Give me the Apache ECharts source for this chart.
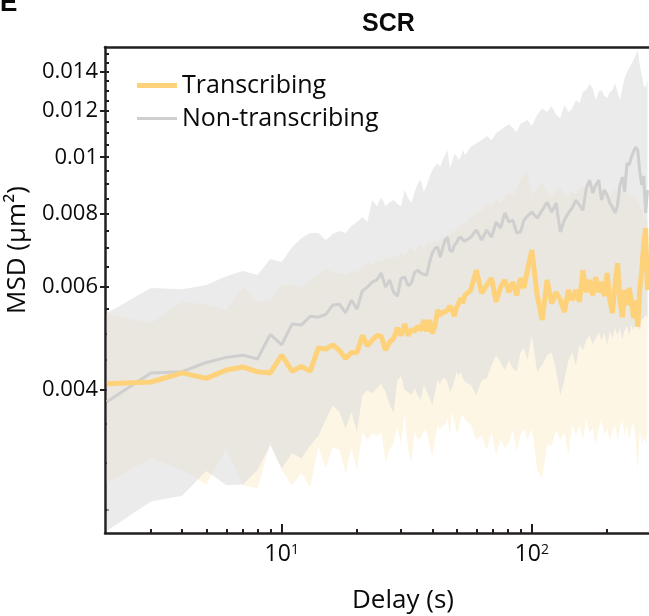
<!DOCTYPE html>
<html><head><meta charset="utf-8">
<script src="https://cdn.jsdelivr.net/npm/echarts@6/dist/echarts.min.js"></script>
<style>html,body{margin:0;padding:0;background:#fff}#c{width:649px;height:616px}</style>
</head><body><div id="c"></div>
<script>
// ---- data (delay in s, MSD in µm²) ----
const delays = [2,3,4,5,6,7,8,9,10,11,12,13,14,15,16,17,18,19,20,21,22,23,24,25,26,27,28,29,30,31,32,33,34,35,36,37,38,39,40,41,42,43,44,45,46,47,48,49,50,51,52,53,54,
57,60,63,66,69,72,75,78,81,84,87,90,93,96,
100,105,110,115,120,125,130,135,140,145,150,155,160,165,170,175,180,185,190,195,200,205,210,215,220,225,230,235,240,245,250,255,260,265,270,275,280,285,290];

const transMean = [0.00410,0.00413,0.00428,0.00419,0.00433,0.00438,0.00430,0.00428,0.00459,
0.00431,0.00439,0.00431,0.00472,0.00470,0.00478,0.00468,0.00453,0.00464,0.00464,
0.00496,0.00476,0.00487,0.00496,0.00494,0.00468,0.00483,0.00490,0.00511,0.00496,
0.00519,0.00496,0.00508,0.00504,0.00515,0.00506,0.00527,0.00504,0.00527,0.00500,
0.00515,0.00548,0.00537,0.00544,0.00544,0.00548,0.00557,0.00548,0.00535,0.00554,
0.00563,0.00574,0.00563,0.00581,
0.00593,0.00641,0.00586,0.00605,0.00621,0.00566,0.00600,0.00617,0.00588,0.00612,0.00581,0.00621,0.00598,0.00641,
0.00694,0.00581,0.00527,0.00617,0.00563,0.00588,0.00570,0.00544,0.00593,0.00570,0.00593,0.00566,0.00641,0.00588,0.00617,0.00581,0.00624,0.00588,0.00612,0.00579,0.00634,0.00570,0.00542,0.00605,0.00659,0.00570,0.00533,0.00593,0.00559,0.00598,0.00570,0.00531,0.00570,0.00513,0.00593,0.00641,0.00708,0.00757,0.00593];

const transLow = [0.00278,0.00306,0.00292,0.00276,0.00318,0.00275,0.00272,0.00325,0.00292,
0.00275,0.00289,0.00273,0.00320,0.00294,0.00320,0.00316,0.00289,0.00318,0.00292,
0.00339,0.00329,0.00338,0.00334,0.00339,0.00301,0.00316,0.00326,0.00346,0.00322,
0.00366,0.00316,0.00301,0.00339,0.00329,0.00332,0.00342,0.00339,0.00322,0.00307,
0.00329,0.00349,0.00342,0.00349,0.00349,0.00358,0.00335,0.00367,0.00353,0.00339,
0.00342,0.00358,0.00363,0.00356,
0.00349,0.00329,0.00335,0.00316,0.00339,0.00310,0.00329,0.00318,0.00326,0.00342,0.00314,0.00335,0.00344,0.00329,
0.00344,0.00292,0.00283,0.00322,0.00322,0.00342,0.00329,0.00339,0.00310,0.00349,0.00335,0.00349,0.00329,0.00356,0.00339,0.00344,0.00322,0.00344,0.00356,0.00335,0.00344,0.00329,0.00339,0.00349,0.00329,0.00344,0.00356,0.00335,0.00349,0.00329,0.00344,0.00353,0.00329,0.00290,0.00342,0.00322,0.00335,0.00322,0.00342];

const transHigh = [0.00540,0.00521,0.00566,0.00561,0.00548,0.00600,0.00566,0.00570,0.00605,
0.00607,0.00598,0.00617,0.00629,0.00646,0.00636,0.00634,0.00629,0.00641,0.00636,
0.00646,0.00662,0.00654,0.00667,0.00662,0.00675,0.00667,0.00680,0.00672,0.00686,
0.00678,0.00694,0.00702,0.00689,0.00699,0.00708,0.00699,0.00716,0.00711,0.00714,
0.00722,0.00714,0.00728,0.00734,0.00728,0.00742,0.00736,0.00751,0.00745,0.00757,
0.00751,0.00763,0.00775,0.00769,
0.00787,0.00803,0.00812,0.00835,0.00828,0.00845,0.00838,0.00858,0.00869,0.00862,0.00885,0.00914,0.00932,0.00944,
0.00862,0.00885,0.00903,0.00872,0.00855,0.00879,0.00885,0.00862,0.00855,0.00879,0.00862,0.00885,0.00893,0.00879,0.00896,0.00903,0.00879,0.00900,0.00872,0.00885,0.00862,0.00855,0.00872,0.00885,0.00879,0.00893,0.00872,0.00862,0.00879,0.00855,0.00862,0.00852,0.00858,0.00845,0.00828,0.00812,0.00796,0.00787,0.00781];

const nonMean = [0.00382,0.00428,0.00430,0.00446,0.00455,0.00459,0.00452,0.00498,0.00478,
0.00519,0.00517,0.00535,0.00533,0.00539,0.00559,0.00561,0.00542,0.00570,0.00550,
0.00591,0.00600,0.00612,0.00617,0.00634,0.00600,0.00617,0.00588,0.00579,0.00621,
0.00624,0.00603,0.00610,0.00636,0.00641,0.00634,0.00631,0.00629,0.00662,0.00686,
0.00699,0.00702,0.00675,0.00699,0.00722,0.00730,0.00694,0.00689,0.00708,0.00714,
0.00728,0.00730,0.00722,0.00719,
0.00730,0.00751,0.00722,0.00751,0.00730,0.00775,0.00757,0.00803,0.00775,0.00781,0.00742,0.00745,0.00781,0.00793,
0.00806,0.00787,0.00812,0.00838,0.00806,0.00835,0.00745,0.00781,0.00803,0.00819,0.00845,0.00828,0.00812,0.00885,0.00914,0.00869,0.00896,0.00914,0.00845,0.00879,0.00862,0.00835,0.00822,0.00803,0.00828,0.00896,0.00925,0.00872,0.00977,0.00970,0.01001,0.01021,0.01041,0.01029,0.00944,0.00896,0.00929,0.00803,0.00879];

const nonLow = [0.00230,0.00258,0.00264,0.00291,0.00275,0.00276,0.00292,0.00322,0.00294,
0.00312,0.00306,0.00322,0.00334,0.00356,0.00377,0.00367,0.00344,0.00367,0.00339,
0.00392,0.00400,0.00395,0.00403,0.00410,0.00397,0.00377,0.00366,0.00416,0.00423,
0.00400,0.00397,0.00392,0.00403,0.00391,0.00385,0.00408,0.00397,0.00388,0.00377,
0.00397,0.00416,0.00410,0.00419,0.00419,0.00413,0.00397,0.00403,0.00416,0.00430,
0.00423,0.00430,0.00419,0.00413,
0.00408,0.00392,0.00416,0.00419,0.00441,0.00459,0.00446,0.00433,0.00450,0.00436,0.00430,0.00464,0.00472,0.00450,
0.00496,0.00430,0.00441,0.00459,0.00464,0.00433,0.00392,0.00416,0.00450,0.00464,0.00441,0.00478,0.00468,0.00487,0.00496,0.00478,0.00490,0.00502,0.00487,0.00502,0.00478,0.00506,0.00490,0.00511,0.00496,0.00511,0.00487,0.00506,0.00515,0.00496,0.00517,0.00506,0.00523,0.00517,0.00506,0.00527,0.00531,0.00537,0.00531];

const nonHigh = [0.00542,0.00598,0.00595,0.00605,0.00626,0.00639,0.00629,0.00670,0.00662,
0.00702,0.00728,0.00742,0.00742,0.00722,0.00739,0.00748,0.00742,0.00763,0.00775,
0.00790,0.00775,0.00845,0.00825,0.00855,0.00825,0.00838,0.00845,0.00832,0.00825,
0.00879,0.00852,0.00835,0.00872,0.00903,0.00914,0.00872,0.00896,0.00925,0.00951,
0.00966,0.00977,0.00962,0.00989,0.01009,0.01029,0.00958,0.00981,0.01013,0.01005,
0.00989,0.01001,0.01029,0.01009,
0.01041,0.01057,0.01070,0.01087,0.01070,0.01100,0.01113,0.01126,0.01140,0.01122,0.01104,0.01140,0.01149,0.01158,
0.01131,0.01181,0.01213,0.01195,0.01223,0.01181,0.01166,0.01228,0.01195,0.01213,0.01252,0.01237,0.01293,0.01303,0.01334,0.01313,0.01252,0.01293,0.01303,0.01273,0.01263,0.01293,0.01303,0.01339,0.01293,0.01252,0.01313,0.01366,0.01399,0.01420,0.01443,0.01466,0.01495,0.01525,0.01437,0.01382,0.01329,0.01313,0.01355];

const seriesNames = ['Transcribing', 'Non-transcribing'];
const yLabelTicks = [0.004, 0.006, 0.008, 0.01, 0.012, 0.014];
const yAllTicks = [0.0025,0.003,0.0035,0.004,0.0045,0.005,0.0055,0.006,0.0065,0.007,0.0075,0.008,0.0085,0.009,0.0095,0.01,0.0105,0.011,0.0115,0.012,0.0125,0.013,0.0135,0.014,0.0145,0.015];
const xLabelTicks = [10, 100];
const xMinorTicks = [3,4,5,6,7,8,9,20,30,40,50,60,70,80,90,200];

// ---- styling ----
const FONT = "'Open Sans', 'DejaVu Sans', sans-serif";
const AX = '#231f20';
const TXT = '#0a0a0a';
const YELLOW = '#fdd27b';
const GREY = '#cfcfcf';
const X_MIN = 1.965, X_MAX = 294, Y_MIN = 0.00228, Y_MAX = 0.01543;

function band(lo, hi, fill, z) {
  return {
    type: 'custom', silent: true, clip: true, z: z,
    xAxisIndex: 0, yAxisIndex: 0,
    data: delays.map((d, i) => [d, lo[i], hi[i]]),
    encode: { x: 0, y: [1, 2] },
    renderItem: function (params, api) {
      if (params.dataIndex !== 0) return null;
      const pts = [];
      for (let i = 0; i < delays.length; i++) pts.push(api.coord([delays[i], hi[i]]));
      for (let i = delays.length - 1; i >= 0; i--) pts.push(api.coord([delays[i], lo[i]]));
      return { type: 'polygon', shape: { points: pts }, style: { fill: fill } };
    }
  };
}

const chart = echarts.init(document.getElementById('c'), null, { renderer: 'canvas' });
const xCommon = { type: 'log', min: X_MIN, max: X_MAX, splitLine: { show: false }, minorTick: { show: false }, minorSplitLine: { show: false } };
const yCommon = { type: 'log', min: Y_MIN, max: Y_MAX, splitLine: { show: false }, minorTick: { show: false }, minorSplitLine: { show: false } };
const legendText = { fontFamily: FONT, fontSize: 25, color: TXT };

chart.setOption({
  animation: false,
  backgroundColor: '#fff',
  title: {
    text: 'SCR', left: 362, top: 12, padding: 0,
    textStyle: { fontFamily: "'Liberation Sans', Arial, sans-serif", fontWeight: 'bold', fontSize: 25, color: TXT }
  },
  graphic: [{
    type: 'text', left: 0, top: -9, silent: true,
    style: { text: 'E', fontFamily: "'Liberation Sans', Arial, sans-serif", fontWeight: 'bold', fontSize: 26, fill: TXT }
  }],
  legend: [
    {
      data: [{ name: seriesNames[0], icon: 'rect' }], left: 137, top: 73, padding: 0,
      itemWidth: 40, itemHeight: 5, selectedMode: false, textStyle: legendText
    },
    {
      data: [{ name: seriesNames[1], icon: 'rect' }], left: 137, top: 106, padding: 0,
      itemWidth: 40, itemHeight: 3, selectedMode: false, textStyle: legendText
    }
  ],
  grid: { left: 105, right: 0, top: 47, bottom: 83, containLabel: false, outerBoundsMode: 'none' },
  xAxis: [
    Object.assign({}, xCommon, {
      position: 'bottom',
      axisLine: { show: true, lineStyle: { color: AX, width: 2.5 } },
      axisTick: { show: true, inside: true, length: 9, customValues: xLabelTicks, lineStyle: { color: AX, width: 2 } },
      axisLabel: {
        customValues: xLabelTicks, margin: 10, fontFamily: FONT, fontSize: 23, color: TXT,
        formatter: v => '10{sup|' + Math.round(Math.log10(v)) + '}',
        rich: { sup: { fontFamily: FONT, fontSize: 14, color: TXT, verticalAlign: 'top', lineHeight: 14 } }
      },
      name: 'Delay (s)', nameLocation: 'middle', nameGap: 55,
      nameTextStyle: { fontFamily: FONT, fontSize: 26, color: TXT, padding: [0, 0, 0, 52] }
    }),
    Object.assign({}, xCommon, {
      position: 'bottom',
      axisLine: { show: false },
      axisTick: { show: true, inside: true, length: 4, customValues: xMinorTicks, lineStyle: { color: AX, width: 2 } },
      axisLabel: { show: false }
    }),
    Object.assign({}, xCommon, {
      position: 'top',
      axisLine: { show: true, lineStyle: { color: AX, width: 2.5 } },
      axisTick: { show: false }, axisLabel: { show: false }
    })
  ],
  yAxis: [
    Object.assign({}, yCommon, {
      position: 'left',
      axisLine: { show: true, lineStyle: { color: AX, width: 2.5 } },
      axisTick: { show: true, inside: false, length: 5, customValues: yLabelTicks, lineStyle: { color: AX, width: 2 } },
      axisLabel: {
        customValues: yLabelTicks, margin: 7, fontFamily: FONT, fontSize: 22, color: TXT,
        formatter: v => String(+(+v).toPrecision(3))
      },
      name: 'MSD (µm²)', nameLocation: 'middle', nameGap: 62, nameRotate: 90,
      nameTextStyle: { fontFamily: FONT, fontSize: 26, color: TXT, padding: [0, 0, 0, 80] }
    }),
    Object.assign({}, yCommon, {
      position: 'left',
      axisLine: { show: false },
      axisTick: { show: true, inside: true, length: 4, customValues: yAllTicks, lineStyle: { color: AX, width: 2 } },
      axisLabel: { show: false }
    })
  ],
  series: [
    band(transLow, transHigh, '#fdf6e4', 1),
    band(nonLow, nonHigh, 'rgba(222,222,222,0.6)', 2),
    {
      name: seriesNames[1], type: 'line', xAxisIndex: 0, yAxisIndex: 0, z: 3,
      data: delays.map((d, i) => [d, nonMean[i]]),
      symbol: 'none', showSymbol: false, silent: true, clip: true,
      lineStyle: { color: GREY, width: 3 }, itemStyle: { color: GREY }
    },
    {
      name: seriesNames[0], type: 'line', xAxisIndex: 0, yAxisIndex: 0, z: 4,
      data: delays.map((d, i) => [d, transMean[i]]),
      symbol: 'none', showSymbol: false, silent: true, clip: true,
      lineStyle: { color: YELLOW, width: 5 }, itemStyle: { color: YELLOW }
    }
  ]
});
</script>
</body></html>
